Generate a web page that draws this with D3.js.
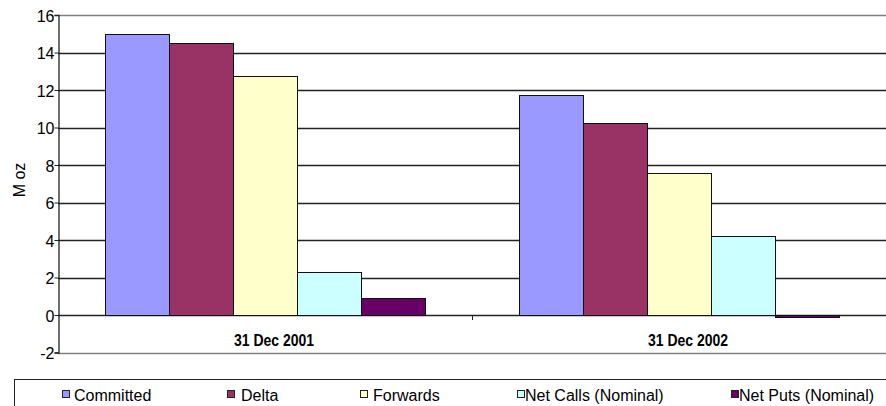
<!DOCTYPE html>
<meta charset="utf-8">
<head>
  <script src="https://d3js.org/d3.v7.min.js"></script>
  <style>
    body { margin: 0; background: #fff; }
    svg text { font-family: "Liberation Sans", Arial, sans-serif; fill: #000; }
  </style>
</head>
<body>
<div id="chart"></div>
<script>
  // data
  var categories = ["31 Dec 2001", "31 Dec 2002"];
  var seriesNames = ["Committed", "Delta", "Forwards", "Net Calls (Nominal)", "Net Puts (Nominal)"];
  var committed = [15.0, 11.75];
  var delta = [14.5, 10.25];
  var forwards = [12.75, 7.6];
  var netCalls = [2.3, 4.2];
  var netPuts = [0.9, -0.1];
  var yTicks = [-2, 0, 2, 4, 6, 8, 10, 12, 14, 16];
  var colors = ["#9999ff", "#993366", "#ffffcc", "#ccffff", "#660066"];

  var allSeries = [committed, delta, forwards, netCalls, netPuts];
  var data = categories.map(function (c, i) {
    return { cat: c, values: seriesNames.map(function (s, j) { return { key: s, value: allSeries[j][i] }; }) };
  });

  var W = 886, H = 406;
  var margin = { top: 15, right: 0, bottom: 54, left: 58 };

  var svg = d3.select("#chart").append("svg")
    .attr("width", W).attr("height", H);

  var x0 = d3.scaleBand().domain(categories).range([margin.left, W - margin.right]).padding(0);
  var x1 = d3.scaleBand().domain(seriesNames).range([0, x0.bandwidth()]).paddingInner(0).paddingOuter(0.734);
  var y = d3.scaleLinear().domain([-2, 16]).range([H - margin.bottom + 0.5, margin.top]);

  // gridlines
  svg.append("g")
    .selectAll("line")
    .data(yTicks)
    .enter().append("line")
    .attr("x1", margin.left).attr("x2", W)
    .attr("y1", function (d) { return Math.round(y(d)) + 0.5; })
    .attr("y2", function (d) { return Math.round(y(d)) + 0.5; })
    .attr("stroke", function (d) { return (d === 16 || d === -2) ? "#808080" : "#222"; })
    .attr("stroke-width", 1.3);

  // bars
  svg.append("g")
    .selectAll("g")
    .data(data)
    .enter().append("g")
    .attr("transform", function (d) { return "translate(" + x0(d.cat) + ",0)"; })
    .selectAll("rect")
    .data(function (d) { return d.values; })
    .enter().append("rect")
    .attr("x", function (d) { return Math.round(x1(d.key)) + 0.5; })
    .attr("width", Math.round(x1.bandwidth()))
    .attr("y", function (d) { return Math.round(y(Math.max(0, d.value))) + 0.5; })
    .attr("height", function (d) { return Math.max(1, Math.abs(Math.round(y(d.value)) - Math.round(y(0)))); })
    .attr("fill", function (d, i) { return colors[i]; })
    .attr("stroke", "#111")
    .attr("stroke-width", 1);

  // y axis
  var yAxis = svg.append("g")
    .attr("transform", "translate(" + (margin.left + 0.5) + ",0)")
    .call(d3.axisLeft(y).tickValues(yTicks).tickSize(4).tickPadding(0).tickFormat(function (d) { return String(d); }));
  yAxis.select(".domain").attr("stroke", "#222").attr("stroke-width", 1.3);
  yAxis.selectAll(".tick line").attr("stroke", "#222");
  yAxis.selectAll(".tick text")
    .attr("font-size", 16)
    .attr("dy", "0.4em")
    .style("font-family", "'Liberation Sans', Arial, sans-serif");

  // zero line tick between categories
  svg.append("line")
    .attr("x1", x0(categories[1]) + 0.5).attr("x2", x0(categories[1]) + 0.5)
    .attr("y1", Math.round(y(0))).attr("y2", Math.round(y(0)) + 5)
    .attr("stroke", "#222");

  // category labels
  svg.append("g")
    .selectAll("text")
    .data(categories)
    .enter().append("text")
    .attr("x", function (d) { return x0(d) + x0.bandwidth() / 2 + 9; })
    .attr("y", 346)
    .attr("text-anchor", "middle")
    .attr("font-size", 16)
    .attr("font-weight", "bold")
    .attr("textLength", 80)
    .attr("lengthAdjust", "spacingAndGlyphs")
    .text(function (d) { return d; });

  // y label
  svg.append("text")
    .attr("transform", "translate(25,180) rotate(-90)")
    .attr("text-anchor", "middle")
    .attr("font-size", 16)
    .text("M oz");

  // legend
  svg.append("rect")
    .attr("x", 14.5).attr("y", 379.5)
    .attr("width", 880).attr("height", 40)
    .attr("fill", "#fff").attr("stroke", "#222");

  var legendSquareX = [62, 227, 360, 517, 731];
  var legendTextX = [74, 241, 373, 525, 739];
  var legend = svg.append("g")
    .selectAll("g")
    .data(seriesNames)
    .enter().append("g");
  legend.append("rect")
    .attr("x", function (d, i) { return legendSquareX[i] + 0.5; })
    .attr("y", 390.5)
    .attr("width", 7).attr("height", 7)
    .attr("fill", function (d, i) { return colors[i]; })
    .attr("stroke", "#222");
  legend.append("text")
    .attr("x", function (d, i) { return legendTextX[i]; })
    .attr("y", 401)
    .attr("font-size", 16)
    .text(function (d) { return d; });
</script>
</body>
